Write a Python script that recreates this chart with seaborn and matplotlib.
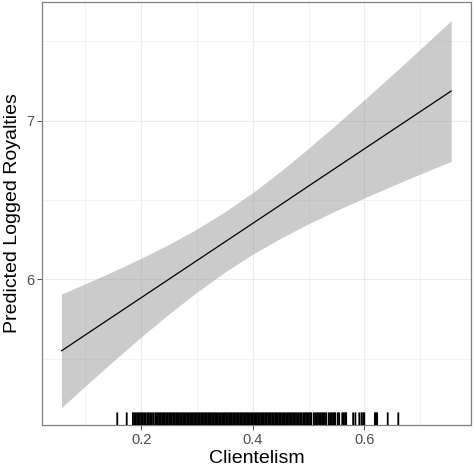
import matplotlib
matplotlib.use("Agg")
import matplotlib.pyplot as plt
import seaborn as sns
import pandas as pd

# Predicted values
clientelism = [0.057, 0.10, 0.15, 0.20, 0.25, 0.30, 0.35, 0.40, 0.45, 0.50,
               0.55, 0.60, 0.65, 0.70, 0.756]
fit = [5.550, 5.651, 5.768, 5.885, 6.002, 6.119, 6.236, 6.353, 6.470, 6.588,
       6.705, 6.822, 6.939, 7.056, 7.187]
lower = [5.192, 5.329, 5.485, 5.637, 5.783, 5.920, 6.046, 6.159, 6.259, 6.350,
         6.434, 6.513, 6.589, 6.663, 6.743]
upper = [5.908, 5.973, 6.051, 6.133, 6.221, 6.318, 6.426, 6.547, 6.681, 6.826,
         6.976, 7.131, 7.289, 7.449, 7.631]

# Observed clientelism values (rug)
rug_values = [
    0.157, 0.174, 0.185, 0.1875, 0.190, 0.1925, 0.195, 0.1975, 0.200, 0.203,
    0.2055, 0.208, 0.211, 0.2135, 0.216, 0.219, 0.2215,
    0.2250, 0.2275, 0.2300, 0.2325, 0.2350, 0.2375, 0.2400, 0.2425, 0.2450, 0.2475,
    0.2500, 0.2525, 0.2550, 0.2575, 0.2600, 0.2625, 0.2650, 0.2675, 0.2700, 0.2725,
    0.2750, 0.2775, 0.2800, 0.2825, 0.2850, 0.2875, 0.2900, 0.2925, 0.2950, 0.2975,
    0.3000, 0.3025, 0.3050, 0.3075, 0.3100, 0.3125, 0.3150, 0.3175, 0.3200, 0.3225,
    0.3250, 0.3275, 0.3300, 0.3325, 0.3350, 0.3375, 0.3400, 0.3425, 0.3450, 0.3475,
    0.3500, 0.3525, 0.3550, 0.3575, 0.3600, 0.3625, 0.3650, 0.3675, 0.3700, 0.3725,
    0.3750, 0.3775, 0.3800, 0.3825, 0.3850, 0.3875, 0.3900, 0.3925, 0.3950, 0.3975,
    0.4000, 0.4025, 0.4050, 0.4075, 0.4100, 0.4125, 0.4150, 0.4175, 0.4200, 0.4225,
    0.4250, 0.4275, 0.4300, 0.4325, 0.4350, 0.4375, 0.4400, 0.4425, 0.4450, 0.4475,
    0.4500, 0.4525, 0.4550, 0.4575, 0.4600, 0.4625, 0.4650, 0.4675, 0.4700, 0.4725,
    0.4750, 0.4775, 0.4800, 0.4825, 0.4850, 0.4875,
    0.4905, 0.4930, 0.4955, 0.4980, 0.5005, 0.5030, 0.5050,
    0.5095, 0.5120, 0.5145, 0.5170, 0.5195, 0.5220, 0.5245, 0.5270, 0.5295, 0.5320,
    0.5365, 0.5390, 0.5415, 0.5440, 0.5465, 0.5480,
    0.5525, 0.5550,
    0.5605, 0.5630, 0.5655, 0.5675,
    0.5800, 0.5840, 0.5910, 0.5950, 0.5980, 0.6000,
    0.6190, 0.6210, 0.6230, 0.6420, 0.6610,
]

x_ticks = [0.2, 0.4, 0.6]
x_tick_labels = ["0.2", "0.4", "0.6"]
y_ticks = [6, 7]
y_tick_labels = ["6", "7"]
x_minor = [0.1, 0.3, 0.5, 0.7]
y_minor = [5.5, 6.5, 7.5]

pred = pd.DataFrame({"Clientelism": clientelism, "fit": fit,
                     "lower": lower, "upper": upper})
rug = pd.DataFrame({"Clientelism": rug_values})

sns.set_theme(style="white")
plt.rcParams["font.family"] = ["Liberation Sans", "DejaVu Sans"]

fig = plt.figure(figsize=(4.77, 4.75), dpi=100)
ax = fig.add_axes([0.088, 0.105, 0.899, 0.891])

ax.set_xlim(0.022, 0.791)
ax.set_ylim(5.082, 7.748)

# grid
for v in x_ticks:
    ax.axvline(v, color="#EBEBEB", lw=0.8, zorder=0)
for v in y_ticks:
    ax.axhline(v, color="#EBEBEB", lw=0.8, zorder=0)
for v in x_minor:
    ax.axvline(v, color="#EBEBEB", lw=0.4, zorder=0)
for v in y_minor:
    ax.axhline(v, color="#EBEBEB", lw=0.4, zorder=0)

ax.fill_between(pred["Clientelism"], pred["lower"], pred["upper"],
                color="#999999", alpha=0.5, lw=0, zorder=1)
sns.lineplot(data=pred, x="Clientelism", y="fit", color="black",
             lw=0.9, ax=ax, zorder=2)
sns.rugplot(data=rug, x="Clientelism", height=0.03, color="black",
            linewidth=1.3, ax=ax, expand_margins=False, zorder=3)
for coll in ax.collections:
    coll.set_snap(False)

ax.set_xticks(x_ticks)
ax.set_xticklabels(x_tick_labels)
ax.set_yticks(y_ticks)
ax.set_yticklabels(y_tick_labels)
ax.tick_params(axis="both", which="major", direction="out", length=3.5,
               width=0.6, color="#333333", labelcolor="#4D4D4D",
               labelsize=10.5, pad=2, bottom=True, left=True)

ax.set_xlabel("Clientelism", fontsize=14, color="black", labelpad=2)
ax.set_ylabel("Predicted Logged Royalties", fontsize=14, color="black",
              labelpad=4)

for s in ax.spines.values():
    s.set_color("#7F7F7F")
    s.set_linewidth(0.9)
    s.set_visible(True)

fig.savefig("out.png", dpi=100)
